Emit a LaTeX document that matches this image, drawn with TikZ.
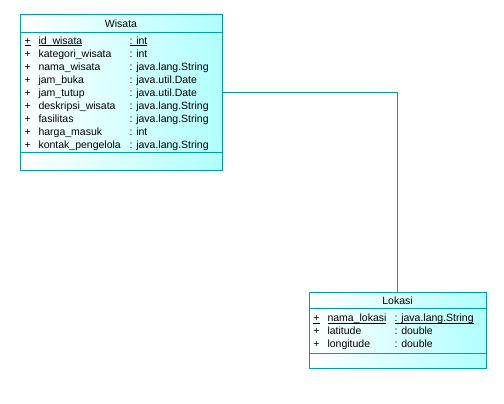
\documentclass[tikz,border=0pt]{standalone}
\usepackage{fontspec}
\setmainfont{Liberation Sans}
\definecolor{umlline}{RGB}{0,160,160}
\definecolor{umlfill}{RGB}{176,255,255}
\newcommand{\classul}[1]{\setbox0\hbox{#1}\rlap{\rule[-1.3pt]{\wd0}{0.6pt}}\box0}
\tikzset{
  classbox/.style={draw=umlline, rectangle, left color=white, right color=umlfill, inner sep=0pt},
  classname/.style={inner sep=0pt, font=\fontsize{10.5}{12}\selectfont},
  attr/.style={anchor=base west, inner sep=0pt, font=\fontsize{10.5}{12}\selectfont},
}
\begin{document}
\begin{tikzpicture}[x=1pt,y=-1pt]
		\useasboundingbox (0,0) rectangle (504,404);
		%class Wisata
		\node[classbox, minimum width=202pt, minimum height=156pt] (wisata) at (121,92){};
		\node[classname] (wisatatitle) at (121,24){Wisata};
		\draw[umlline] (20,32.5) -- (222,32.5);
		\draw[umlline] (20,152.5) -- (222,152.5);
		\node[attr] (wisplus0) at (24.5, 44.5){\classul{+}};
		\node[attr] (wisname0) at (38.3, 44.5){\classul{id\_wisata}};
		\node[attr] (wistype0) at (129.3, 44.5){\classul{: int}};
		\foreach \name/\type [count=\i] in {kategori\_wisata/int, nama\_wisata/java.lang.String,
			jam\_buka/java.util.Date, jam\_tutup/java.util.Date, deskripsi\_wisata/java.lang.String,
			fasilitas/java.lang.String, harga\_masuk/int, kontak\_pengelola/java.lang.String}{
			\node[attr] (wisplus\i) at (24.5, 44.5+12.96*\i){+};
			\node[attr] (wisname\i) at (38.3, 44.5+12.96*\i){\name};
			\node[attr] (wistype\i) at (129.3, 44.5+12.96*\i){: \type};
		}
		
		%class Lokasi
		\node[classbox, minimum width=177pt, minimum height=76pt] (lokasi) at (397.5,330.3){};
		\node[classname] (lokasititle) at (397.5,300.7){Lokasi};
		\draw[umlline] (309,307.7) -- (486,307.7);
		\draw[umlline] (309,353.3) -- (486,353.3);
		\node[attr] (lokplus0) at (313.2, 321.8){\classul{+}};
		\node[attr] (lokname0) at (327.3, 321.8){\classul{nama\_lokasi}};
		\node[attr] (loktype0) at (394.3, 321.8){\classul{: java.lang.String}};
		\foreach \name/\type [count=\i] in {latitude/double, longitude/double}{
			\node[attr] (lokplus\i) at (313.2, 321.8+12.9*\i){+};
			\node[attr] (lokname\i) at (327.3, 321.8+12.9*\i){\name};
			\node[attr] (loktype\i) at (394.3, 321.8+12.9*\i){: \type};
		}
		
		%association
		\draw[umlline] (wisata.east) -| (lokasi.north);
\end{tikzpicture}
\end{document}
